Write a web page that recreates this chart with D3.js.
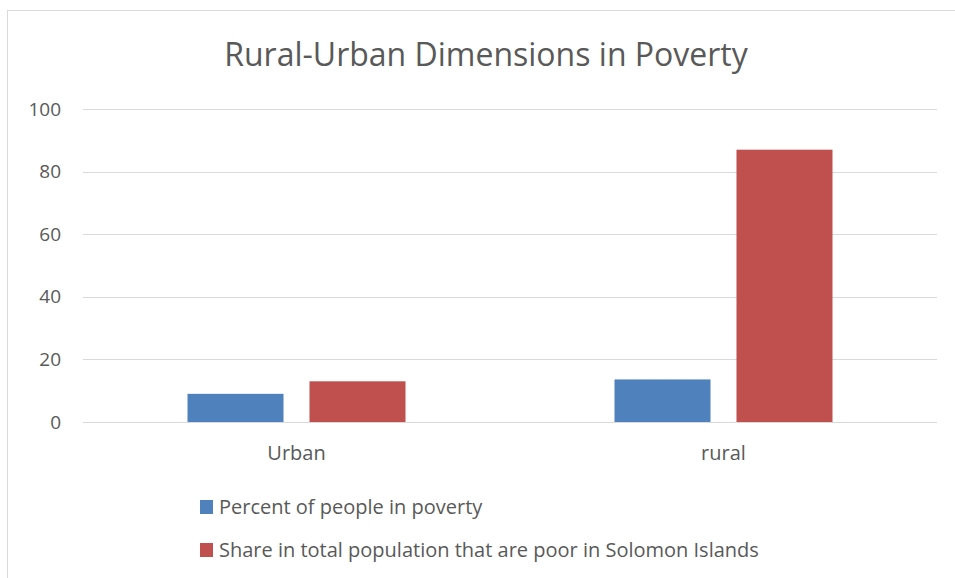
<!DOCTYPE html>
<html>
<head>
<meta charset="utf-8">
<style>
  body { margin: 0; background: #fff; }
  svg text { font-family: "Open Sans", sans-serif; fill: #595959; }
  .grid line { stroke: #d9d9d9; }
</style>
</head>
<body>
<svg id="chart" width="955" height="578"></svg>
<script src="https://cdn.jsdelivr.net/npm/d3@7"></script>
<script>
// data
const categories = ["Urban", "rural"]
const series = ["Percent of people in poverty", "Share in total population that are poor in Solomon Islands"]
const percentPoor = [9, 13.6]
const sharePoor = [13, 87]
const yTicks = [0, 20, 40, 60, 80, 100]
const colors = ["#4f81bd", "#c0504d"]

const values = [percentPoor, sharePoor]
const rows = categories.map((c, i) => ({ cat: c, vals: series.map((s, j) => ({ s: s, j: j, v: values[j][i] })) }))

let svg = d3.select("#chart")

// outer chart border (runs off right and bottom)
svg.append("rect")
   .attr("x", 7.5).attr("y", 10.5)
   .attr("width", 1000).attr("height", 1000)
   .attr("fill", "none").attr("stroke", "#d9d9d9")

let plotLeft = 83, plotRight = 937, plotTop = 109, plotBottom = 422

let y = d3.scaleLinear().domain([0, 100]).range([plotBottom, plotTop])
let x0 = d3.scaleBand().domain(categories).range([plotLeft, plotRight])
let groupW = 218
let x1 = d3.scaleBand().domain(series).range([0, groupW]).paddingInner(0.213)

// gridlines
svg.append("g").attr("class", "grid")
   .selectAll("line").data(yTicks).enter()
   .append("line")
     .attr("x1", plotLeft).attr("x2", plotRight)
     .attr("y1", d => Math.round(y(d)) + 0.5)
     .attr("y2", d => Math.round(y(d)) + 0.5)

// y labels
svg.append("g").selectAll("text").data(yTicks).enter()
   .append("text")
     .attr("x", 61).attr("y", d => y(d))
     .attr("dy", "0.35em")
     .attr("text-anchor", "end")
     .attr("font-size", 19)
     .text(d => d)

// bars
let groups = svg.append("g").selectAll("g").data(rows).enter()
   .append("g")
     .attr("transform", d => `translate(${x0(d.cat) + (x0.bandwidth() - groupW) / 2},0)`)

groups.selectAll("rect").data(d => d.vals).enter()
   .append("rect")
     .attr("x", d => x1(d.s))
     .attr("width", x1.bandwidth())
     .attr("y", d => y(d.v))
     .attr("height", d => y(0) - y(d.v))
     .attr("fill", d => colors[d.j])

// category labels
svg.append("g").selectAll("text").data(categories).enter()
   .append("text")
     .attr("x", d => x0(d) + x0.bandwidth() / 2)
     .attr("y", 453).attr("dy", "0.35em")
     .attr("text-anchor", "middle")
     .attr("font-size", 20)
     .text(d => d)

// title
svg.append("text")
   .attr("x", 486).attr("y", 55).attr("dy", "0.35em")
   .attr("text-anchor", "middle")
   .attr("font-size", 32)
   .text("Rural-Urban Dimensions in Poverty")

// legend
let legend = svg.append("g").selectAll("g").data(series).enter()
   .append("g")
     .attr("transform", (d, i) => `translate(200,${507 + i * 43})`)

legend.append("rect")
   .attr("x", 0).attr("y", -7)
   .attr("width", 13).attr("height", 14)
   .attr("fill", (d, i) => colors[i])

legend.append("text")
   .attr("x", 19).attr("dy", "0.35em")
   .attr("font-size", 20)
   .text(d => d)
</script>
</body>
</html>
